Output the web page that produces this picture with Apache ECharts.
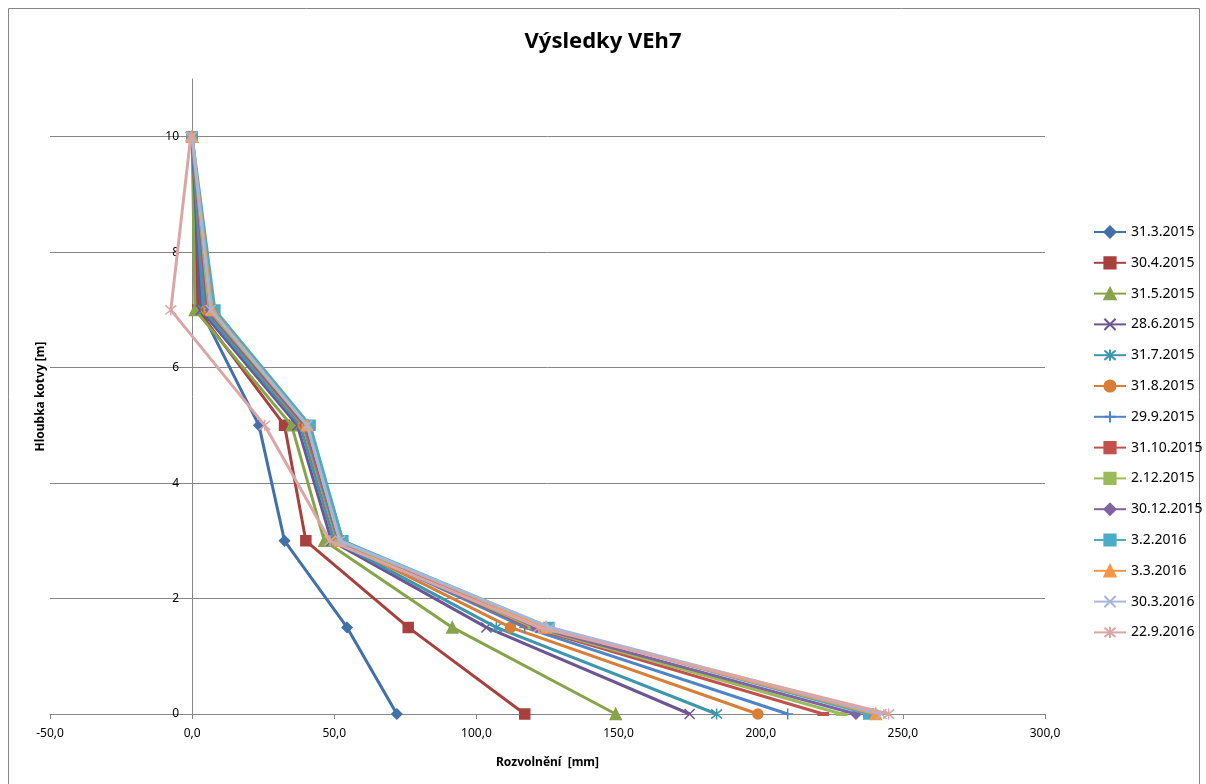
<!DOCTYPE html>
<html>
<head>
<meta charset="utf-8">
<script src="https://cdn.jsdelivr.net/npm/echarts@6/dist/echarts.min.js"></script>
<style>
html,body{margin:0;padding:0;background:#fff;}
#chart{width:1206px;height:784px;}
</style>
</head>
<body>
<div id="chart"></div>
<script>
// Depths of the anchor measuring points [m]
const depths = [10, 7, 5, 3, 1.5, 0];

// Series names (measurement dates)
const seriesNames = ['31.3.2015','30.4.2015','31.5.2015','28.6.2015','31.7.2015','31.8.2015','29.9.2015','31.10.2015','2.12.2015','30.12.2015','3.2.2016','3.3.2016','30.3.2016','22.9.2016'];

// Displacement values [mm] per depth (same order as depths)
const v_31_3_2015  = [0, 3,   23.5, 32.5, 54.5, 72];
const v_30_4_2015  = [0, 2,   32.5, 40,   76,   117];
const v_31_5_2015  = [0, 1,   35,   46.5, 91.5, 149];
const v_28_6_2015  = [0, 3,   37,   49,   103.5, 175];
const v_31_7_2015  = [0, 4,   38,   50,   107,  184.5];
const v_31_8_2015  = [0, 5,   39,   51,   112,  199];
const v_29_9_2015  = [0, 5,   39.5, 51.5, 117,  209.5];
const v_31_10_2015 = [0, 5.5, 40,   52,   119,  222];
const v_2_12_2015  = [0, 6,   40.5, 52,   120,  228.5];
const v_30_12_2015 = [0, 6.5, 41,   53,   121,  233.5];
const v_3_2_2016   = [0, 8,   41.5, 53,   125.5, 238];
const v_3_3_2016   = [0, 7,   40.5, 52,   124.5, 240.5];
const v_30_3_2016  = [0, 6.5, 40.5, 52,   126,  242.5];
const v_22_9_2016  = [-0.5, -7.5, 25.5, 48.5, 122, 245];

const seriesValues = [v_31_3_2015, v_30_4_2015, v_31_5_2015, v_28_6_2015, v_31_7_2015, v_31_8_2015, v_29_9_2015, v_31_10_2015, v_2_12_2015, v_30_12_2015, v_3_2_2016, v_3_3_2016, v_30_3_2016, v_22_9_2016];

// Axis ticks
const xMin = -50, xMax = 300, xStep = 50;
const yMin = 0, yMax = 11, yStep = 2;

const colors = ['#4270A8','#A8413E','#86A44A','#6D5592','#3C96AD','#D87E36','#4F84C6','#C2504D','#9BBB59','#8064A2','#4BACC6','#F79646','#A5B8DA','#DAA6A5'];

const P_X = 'path://M0,0L10,10M10,0L0,10';
const P_AST = 'path://M0,0L10,10M10,0L0,10M5,-1L5,11';
const P_PLUS = 'path://M5,0L5,10M0,5L10,5';
const symbols = ['diamond','rect','triangle',P_X,P_AST,'circle',P_PLUS,'rect','rect','diamond','rect','triangle',P_X,P_AST];
const sizes = [10,10,11,10,11,10,11,[9,3],[9,3],10,10,11,10,11];

const series = seriesNames.map((name, i) => ({
  name: name,
  type: 'line',
  data: seriesValues[i].map((v, k) => [v, depths[k]]),
  symbol: symbols[i],
  symbolSize: sizes[i],
  showSymbol: true,
  lineStyle: { color: colors[i], width: 3 },
  itemStyle: { color: colors[i], borderColor: colors[i], borderWidth: 1.5 },
  emphasis: { disabled: true },
  z: 2 + i
}));

const fmt = v => v.toFixed(1).replace('.', ',');
const font = '"Noto Sans", "Open Sans", sans-serif';

const chart = echarts.init(document.getElementById('chart'), null, { renderer: 'canvas' });
chart.setOption({
  animation: false,
  backgroundColor: '#ffffff',
  textStyle: { fontFamily: font },
  title: {
    text: 'Výsledky VEh7',
    left: 'center',
    top: 26,
    textStyle: { fontSize: 22, fontWeight: 'bold', color: '#000', fontFamily: font }
  },
  grid: { left: 50, right: 161, top: 79, bottom: 70, containLabel: false, outerBoundsMode: 'none' },
  legend: {
    orient: 'vertical',
    left: 1088,
    top: 220,
    itemWidth: 32,
    itemHeight: 14,
    itemGap: 16.8,
    textStyle: { fontSize: 14, color: '#000', fontFamily: font },
    data: seriesNames
  },
  xAxis: {
    type: 'value',
    min: xMin, max: xMax, interval: xStep,
    name: 'Rozvolnění  [mm]',
    nameLocation: 'middle',
    nameGap: 43,
    nameTextStyle: { fontSize: 12, fontWeight: 'bold', color: '#000' },
    axisLine: { show: true, onZero: false, lineStyle: { color: '#868686', width: 1 } },
    axisTick: { show: true, length: 5, inside: false, lineStyle: { color: '#868686' } },
    axisLabel: { formatter: fmt, fontSize: 12, color: '#000', margin: 14 },
    splitLine: { show: false }
  },
  yAxis: {
    type: 'value',
    min: yMin, max: yMax, interval: yStep,
    name: 'Hloubka kotvy [m]',
    nameLocation: 'middle',
    nameGap: 3,
    nameTextStyle: { fontSize: 12, fontWeight: 'bold', color: '#000' },
    axisLine: { show: true, onZero: true, lineStyle: { color: '#868686', width: 1 } },
    axisTick: { show: false },
    axisLabel: { fontSize: 12, color: '#000', margin: -129, showMaxLabel: false },
    splitLine: { show: true, showMaxLine: false, lineStyle: { color: '#868686', width: 1 } }
  },
  graphic: [{
    type: 'rect',
    shape: { x: 8.5, y: 8.5, width: 1191, height: 800 },
    style: { fill: 'none', stroke: '#868686', lineWidth: 1 },
    silent: true,
    z: -1
  }],
  series: series
});
</script>
</body>
</html>
